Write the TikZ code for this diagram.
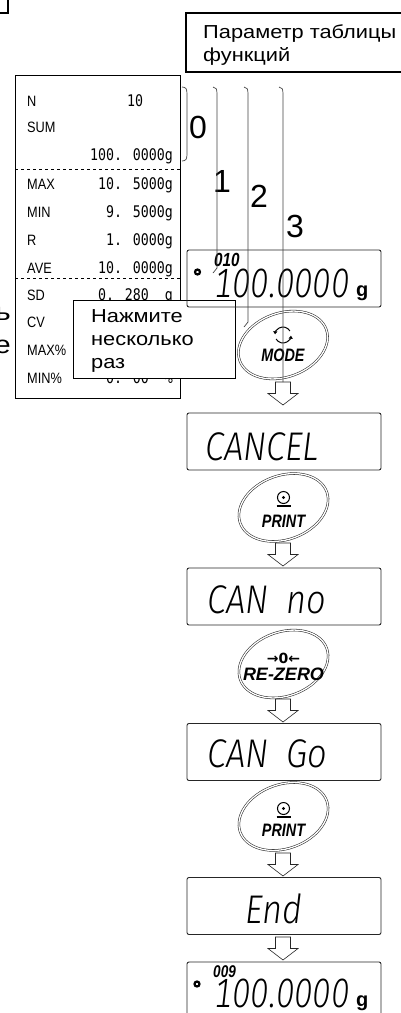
\documentclass[tikz,border=0pt]{standalone}
\usepackage{fontspec}
\setmainfont{Liberation Sans}
\newfontfamily\rufont{Liberation Sans}[FakeStretch=1.16]
\IfFontExistsTF{Fira Sans Light Italic}
 {\newfontfamily\segfont{Fira Sans Light Italic}[FakeStretch=0.86,Numbers=Monospaced]
  \newfontfamily\segnumfont{Fira Sans Light Italic}[FakeStretch=0.8,Numbers=Monospaced]}
 {\newfontfamily\segfont{Fira Sans Italic}[FakeStretch=0.86,Numbers=Monospaced]
  \newfontfamily\segnumfont{Fira Sans Italic}[FakeStretch=0.8,Numbers=Monospaced]}
\newfontfamily\keyfont{Liberation Sans}[FakeStretch=0.8]
\newfontfamily\tabfont{Liberation Sans}[FakeStretch=0.85]
\newfontfamily\valfont{DejaVu Sans Mono}[FakeStretch=0.83]
\newfontfamily\symfont{DejaVu Sans}
\usetikzlibrary{arrows.meta,shapes.geometric,calc}

\begin{document}
\begin{tikzpicture}[x=1pt,y=-1pt,>={Triangle[length=3pt,width=4pt]},
 frame/.style={draw=black,line width=1.1pt},
 panel/.style={draw=black!85,line width=0.9pt,rounded corners=2pt,minimum width=194,minimum height=57,inner sep=0pt},
 key/.style={ellipse,draw=black!85,double,double distance=1.3pt,line width=0.55pt,minimum width=92,minimum height=64,rotate=20,inner sep=0pt},
 keytxt/.style={font=\keyfont\bfseries\itshape\fontsize{18}{18}\selectfont,inner sep=0pt},
 seg/.style={font=\segfont\fontsize{40}{40}\selectfont,anchor=base west,inner sep=0pt},
 segnum/.style={font=\segnumfont\fontsize{41}{41}\selectfont,anchor=base west,inner sep=0pt},
 cnt/.style={font=\keyfont\bfseries\itshape\fontsize{19}{19}\selectfont,anchor=base west,inner sep=0pt},
 unit/.style={font=\bfseries\fontsize{20}{20}\selectfont,anchor=base west,inner sep=0pt},
 lamp/.style={circle,draw,line width=2.2pt,inner sep=0pt,minimum size=5},
 lbl/.style={font=\tabfont\fontsize{15}{15}\selectfont,anchor=base west,inner sep=0pt},
 val/.style={font=\valfont\fontsize{16}{16}\selectfont,anchor=base east,inner sep=0pt},
 num/.style={font=\fontsize{32}{32}\selectfont,anchor=base west,inner sep=0pt},
 ru/.style={font=\rufont\fontsize{18.8}{23}\selectfont,align=left,anchor=north west,inner sep=0pt},
 pointer/.style={black!75,line width=0.7pt},
 hollow/.pic={\draw[line width=0.6pt,black!85] (-7.5,0) -- (7.5,0) -- (7.5,11.5) -- (15,11.5) -- (0,23) -- (-15,11.5) -- (-7.5,11.5) -- cycle;}]
\useasboundingbox (0,0) rectangle (401,1013);

% cut-off pieces on the left
\draw[frame] (-10,-10) rectangle (8,13);
\node[ru,anchor=base east,font=\rufont\fontsize{25}{25}\selectfont] (cut1) at (11,320) {ь};
\node[ru,anchor=base east,font=\rufont\fontsize{25}{25}\selectfont] (cut2) at (11,353) {е};

% function table parameter
\draw[frame] (186,13) rectangle (420,72);
\node[ru] (param) at (203,25) {Параметр таблицы\\функций};

% statistics table
\draw[line width=0.9pt] (15,75) rectangle (180,398);
\draw[dashed,line width=0.8pt] (15,169) -- (180,169) (15,278) -- (180,278);
\foreach \y/\t [count=\i] in {106/N,132/SUM,189/MAX,217/MIN,245/R,273/AVE,300/SD,327/CV,355/{MAX\%},383/{MIN\%}}
  \node[lbl] (lbl\i) at (27,\y) {\t};
\node[val,anchor=base west] (vN) at (127,106) {10};
\foreach \y/\t [count=\i] in {160/{100. 0000g},189/{10. 5000g},217/{9. 5000g},245/{1. 0000g},273/{10. 0000g},300/{0. 280\ \ g},383/{0. 00\ \ \%}}
  \node[val] (val\i) at (173,\y) {\t};

% press several times
\node[draw,fill=white,line width=1.1pt,minimum width=162,minimum height=78,anchor=north west,inner sep=0pt] (press) at (73,300) {};
\node[ru] (presstxt) at (91,309.5) {Нажмите\\несколько\\раз};

% parameter values
\node[num] (n0) at (189,138) {0};
\node[num] (n1) at (213,192) {1};
\node[num] (n2) at (250,207) {2};
\node[num] (n3) at (286,237) {3};

% displays
\node[panel] (d1) at (284,278.5) {};
\node[panel] (d2) at (284,441.5) {};
\node[panel] (d3) at (284,596.5) {};
\node[panel] (d4) at (284,752) {};
\node[panel] (d5) at (284,906) {};
\node[panel] (d6) at (284,990.5) {};

\node[lamp] (lamp1) at (197.5,272) {};
\node[cnt] (cnt1) at (214,266) {010};
\node[segnum] (w1) at (214,297) {100.0000};
\node[unit] (g1) at (356,296) {g};
\node[seg] (w2) at (205,460) {CANCEL};
\node[seg] (w3) at (207,613) {CAN\hspace{18pt}no};
\node[seg] (w4) at (207,767) {CAN\hspace{18pt}Go};
\node[seg] (w5) at (245,923) {End};
\node[lamp] (lamp6) at (197,984) {};
\node[cnt,font=\keyfont\bfseries\itshape\fontsize{17}{17}\selectfont] (cnt6) at (213,977) {009};
\node[segnum] (w6) at (214,1007) {100.0000};
\node[unit] (g6) at (356,1006) {g};

% keys
\node[key] (mode) at (283,345) {};
\node[keytxt] (modetxt) at ($(mode)+(0,10.5)$) {MODE};
\draw[line width=1pt,->] ($(mode)+(0,-10)+(-30:8)$) arc[start angle=-30,end angle=-175,radius=8];
\draw[line width=1pt,->] ($(mode)+(0,-10)+(150:8)$) arc[start angle=150,end angle=5,radius=8];

\node[key] (print1) at (283.5,507.5) {};
\node[keytxt] (print1txt) at ($(print1)+(0,13.5)$) {PRINT};
\draw[line width=1pt] ($(print1)+(0,-10)$) circle (6);
\fill ($(print1)+(0,-10)$) circle (1.6);
\draw[line width=1.1pt] ($(print1)+(-7,-1.5)$) -- ($(print1)+(7,-1.5)$);

\node[key] (rezero) at (283.5,664) {};
\node[font=\symfont\bfseries\fontsize{14}{14}\selectfont,inner sep=0pt] (rztop) at ($(rezero)+(0,-6)$) {→0←};
\node[keytxt,font=\bfseries\itshape\fontsize{18}{18}\selectfont] (rztxt) at ($(rezero)+(0,10)$) {RE-ZERO};

\node[key] (print2) at (283.5,816.5) {};
\node[keytxt] (print2txt) at ($(print2)+(0,14)$) {PRINT};
\draw[line width=1pt] ($(print2)+(0,-8)$) circle (6);
\fill ($(print2)+(0,-8)$) circle (1.6);
\draw[line width=1.1pt] ($(print2)+(-7,0.5)$) -- ($(print2)+(7,0.5)$);

% step arrows
\coordinate (a1) at (283,382);
\coordinate (a2) at (283,543);
\coordinate (a3) at (283,699);
\coordinate (a4) at (283,853);
\coordinate (a5) at (283,937);
\foreach \a in {a1,a2,a3,a4,a5} \pic at (\a) {hollow};

% pointers
\draw[pointer] (182,87) .. controls (186,87) and (187,89) .. (187,94) -- (187,154) .. controls (187,159) and (186,161) .. (182,161);
\draw[pointer] (213,87) .. controls (216,87) and (217,89) .. (217,94) -- (217,268) -- (213,273);
\draw[pointer] (244,87) .. controls (247,87) and (248,89) .. (248,94) -- (248,322) -- (244,327);
\draw[pointer] (279,87) .. controls (282,87) and (283,89) .. (283,94) -- (a1);
\end{tikzpicture}
\end{document}
